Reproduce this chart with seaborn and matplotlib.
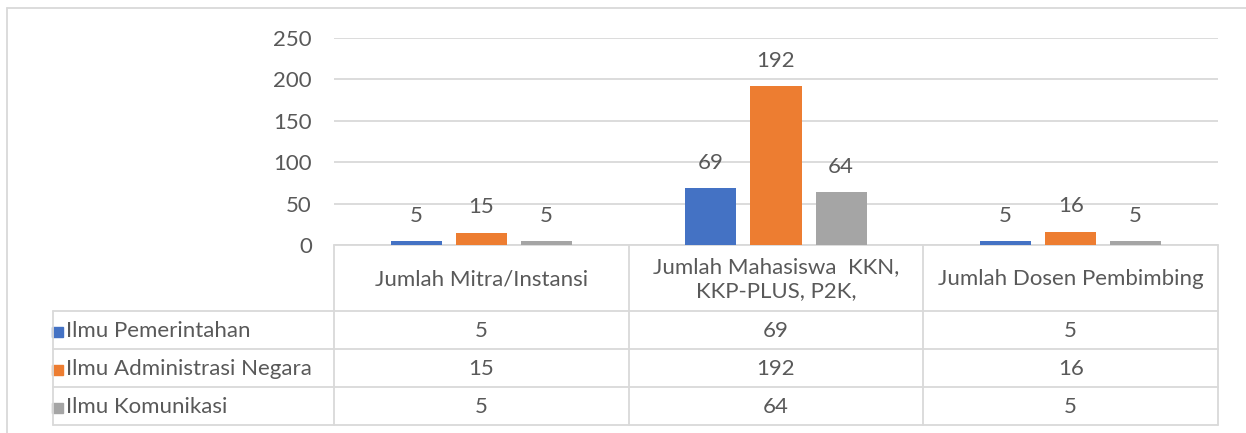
import matplotlib
matplotlib.use("Agg")
import matplotlib.pyplot as plt
import seaborn as sns
import pandas as pd
from matplotlib.patches import Rectangle

# ---- data ----
categories = ["Jumlah Mitra/Instansi", "Jumlah Mahasiswa  KKN,\nKKP-PLUS, P2K,", "Jumlah Dosen Pembimbing"]
series_names = ["Ilmu Pemerintahan", "Ilmu Administrasi Negara", "Ilmu Komunikasi"]
ilmu_pemerintahan = [5, 69, 5]
ilmu_administrasi_negara = [15, 192, 16]
ilmu_komunikasi = [5, 64, 5]
y_ticks = [0, 50, 100, 150, 200, 250]

colors = ["#4472C4", "#ED7D31", "#A5A5A5"]
text_color = "#595959"
line_color = "#D9D9D9"

series_values = [ilmu_pemerintahan, ilmu_administrasi_negara, ilmu_komunikasi]
rows = []
for name, vals in zip(series_names, series_values):
    for c, v in zip(categories, vals):
        rows.append({"cat": c, "series": name, "val": v})
df = pd.DataFrame(rows)

sns.set_theme(style="white")
plt.rcParams["font.family"] = ["Lato", "DejaVu Sans"]
FS = 16

W, H = 1246, 433
fig = plt.figure(figsize=(W / 100, H / 100), dpi=100)
fig.patch.set_facecolor("white")

# background overlay in pixel coordinates
bg = fig.add_axes([0, 0, 1, 1], zorder=0)
bg.set_xlim(0, W)
bg.set_ylim(H, 0)
bg.axis("off")

# plot area (pixels)
L, R, T, B = 334, 1218, 38, 245
ax = fig.add_axes([L / W, 1 - B / H, (R - L) / W, (B - T) / H], zorder=1)
ax.patch.set_alpha(0)

sns.barplot(data=df, x="cat", y="val", hue="series", order=categories,
            hue_order=series_names, palette=colors, width=0.662, gap=0.215,
            ax=ax, legend=False, saturation=1, edgecolor="none")
ax.set_xlim(-0.5, len(categories) - 0.5)
ax.set_ylim(0, 250)
ax.set_yticks(y_ticks)
ax.set_yticklabels([str(t) for t in y_ticks], fontsize=FS, color=text_color)
ax.tick_params(axis="y", length=0, pad=16)
ax.set_xticks([])
ax.set_xlabel("")
ax.set_ylabel("")
ax.yaxis.grid(True, color=line_color, linewidth=1.3)
ax.set_axisbelow(True)
for s in ax.spines.values():
    s.set_visible(False)
for cont in ax.containers:
    ax.bar_label(cont, labels=[f"{int(v)}" for v in cont.datavalues],
                 padding=11, fontsize=FS, color=text_color)

# outer frame
bg.plot([7, W], [8, 8], color=line_color, lw=1.3)
bg.plot([7, 7], [8, H], color=line_color, lw=1.3)

# data table
ncat = len(categories)
colw = (R - L) / ncat
col_edges = [L + i * colw for i in range(ncat + 1)]
leg_left = 53
head_bottom = 311
row_h = 38
row_edges = [head_bottom + i * row_h for i in range(len(series_names) + 1)]
tab_bottom = row_edges[-1]

lw = 1.3
bg.plot([L, R], [B, B], color=line_color, lw=lw)
for y in row_edges:
    bg.plot([leg_left, R], [y, y], color=line_color, lw=lw)
for x in col_edges:
    bg.plot([x, x], [B, tab_bottom], color=line_color, lw=lw)
bg.plot([leg_left, leg_left], [head_bottom, tab_bottom], color=line_color, lw=lw)

for i, c in enumerate(categories):
    cx = (col_edges[i] + col_edges[i + 1]) / 2
    bg.text(cx, (B + head_bottom) / 2 + 1, c, ha="center", va="center",
            fontsize=FS, color=text_color, linespacing=1.2)

for j, (name, vals) in enumerate(zip(series_names, series_values)):
    cy = (row_edges[j] + row_edges[j + 1]) / 2
    bg.add_patch(Rectangle((52, cy - 3.5), 10.5, 10.5, color=colors[j]))
    bg.text(66, cy + 1, name, ha="left", va="center", fontsize=FS, color=text_color)
    for i, v in enumerate(vals):
        cx = (col_edges[i] + col_edges[i + 1]) / 2
        bg.text(cx, cy + 1, str(v), ha="center", va="center", fontsize=FS, color=text_color)

fig.savefig("out.png", dpi=100, facecolor="white")
